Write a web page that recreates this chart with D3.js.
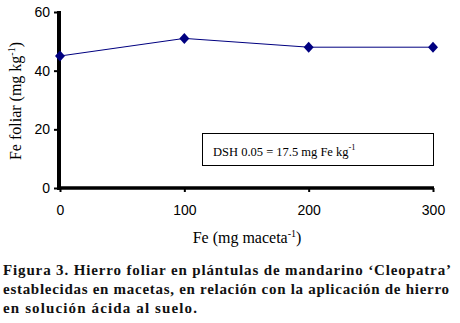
<!DOCTYPE html>
<html>
<head>
<meta charset="utf-8">
<script src="https://cdn.jsdelivr.net/npm/d3@7"></script>
<style>
  body { margin: 0; background: #fff; }
  svg { display: block; }
</style>
</head>
<body>
<div id="grafico"></div>
<script>
// Datos
const dosisFe = [0, 100, 200, 300];
const feFoliar = [45, 51, 48, 48];
const ticksY = [0, 20, 40, 60];
const ticksX = [0, 100, 200, 300];
const leyenda = ["Figura 3. Hierro foliar en plántulas de mandarino ‘Cleopatra’",
                 "establecidas en macetas, en relación con la aplicación de hierro",
                 "en solución ácida al suelo."];
const anchoLeyenda = [448, 446, 194];

const width = 460, height = 323;
const serif = "Liberation Serif, Times New Roman, serif";
const svg = d3.select("#grafico").append("svg")
    .attr("width", width)
    .attr("height", height);

const x = d3.scaleLinear().domain([0, 300]).range([60, 433]);
const y = d3.scaleLinear().domain([0, 60]).range([188, 12]);

// Ejes
const ejeY = svg.append("g")
    .attr("transform", "translate(59,0)")
    .call(d3.axisLeft(y).tickValues(ticksY).tickSize(5).tickPadding(4));
const ejeX = svg.append("g")
    .attr("transform", "translate(0,188)")
    .call(d3.axisBottom(x).tickValues(ticksX).tickSize(4).tickPadding(13));

[ejeY, ejeX].forEach(g => {
    g.selectAll(".tick line").attr("stroke", "#000").attr("stroke-width", 2);
    g.selectAll(".tick text")
        .style("font-family", "Liberation Sans, Arial, sans-serif")
        .style("font-size", "14px")
        .attr("fill", "#000");
});
ejeY.select(".domain").attr("d", "M0,11V190").attr("stroke", "#000").attr("stroke-width", 4);
ejeX.select(".domain").attr("d", "M58,0H434").attr("stroke", "#000").attr("stroke-width", 3.5);

// Línea
const linea = d3.line().x((d, i) => x(dosisFe[i])).y(d => y(d));
svg.append("path")
    .datum(feFoliar)
    .attr("d", linea)
    .attr("fill", "none")
    .attr("stroke", "#000080")
    .attr("stroke-width", 1);

// Marcadores rombo
svg.selectAll(".punto")
    .data(feFoliar)
    .enter()
    .append("path")
    .attr("class", "punto")
    .attr("transform", (d, i) => `translate(${x(dosisFe[i])},${y(d)})`)
    .attr("d", "M0,-5.5L5,0L0,5.5L-5,0Z")
    .attr("fill", "#000080");

// Caja DSH
svg.append("rect")
    .attr("x", 202.5).attr("y", 133.5)
    .attr("width", 231).attr("height", 32)
    .attr("fill", "#fff").attr("stroke", "#000").attr("stroke-width", 1);
const dsh = svg.append("text")
    .attr("x", 213).attr("y", 156)
    .style("font-family", serif)
    .style("font-size", "12.5px");
dsh.append("tspan").text("DSH 0.05 = 17.5 mg Fe kg");
dsh.append("tspan").attr("dy", -6).style("font-size", "8.5px").text("-1");

// Título eje Y
const tituloY = svg.append("text")
    .attr("transform", "translate(21,101) rotate(-90)")
    .attr("text-anchor", "middle")
    .style("font-family", serif)
    .style("font-size", "16px");
tituloY.append("tspan").text("Fe foliar (mg kg");
tituloY.append("tspan").attr("dy", -6).style("font-size", "10px").text("-1");
tituloY.append("tspan").attr("dy", 6).text(")");

// Título eje X
const tituloX = svg.append("text")
    .attr("x", 247).attr("y", 243)
    .attr("text-anchor", "middle")
    .style("font-family", serif)
    .style("font-size", "16px");
tituloX.append("tspan").text("Fe (mg maceta");
tituloX.append("tspan").attr("dy", -6).style("font-size", "10px").text("-1");
tituloX.append("tspan").attr("dy", 6).text(")");

// Leyenda de la figura
svg.selectAll(".leyenda")
    .data(leyenda)
    .enter()
    .append("text")
    .attr("class", "leyenda")
    .attr("x", 3)
    .attr("y", (d, i) => 275 + i * 19)
    .attr("textLength", (d, i) => anchoLeyenda[i])
    .attr("lengthAdjust", "spacing")
    .style("font-family", serif)
    .style("font-weight", "bold")
    .style("font-size", "15px")
    .attr("fill", "#111")
    .text(d => d);
</script>
</body>
</html>
